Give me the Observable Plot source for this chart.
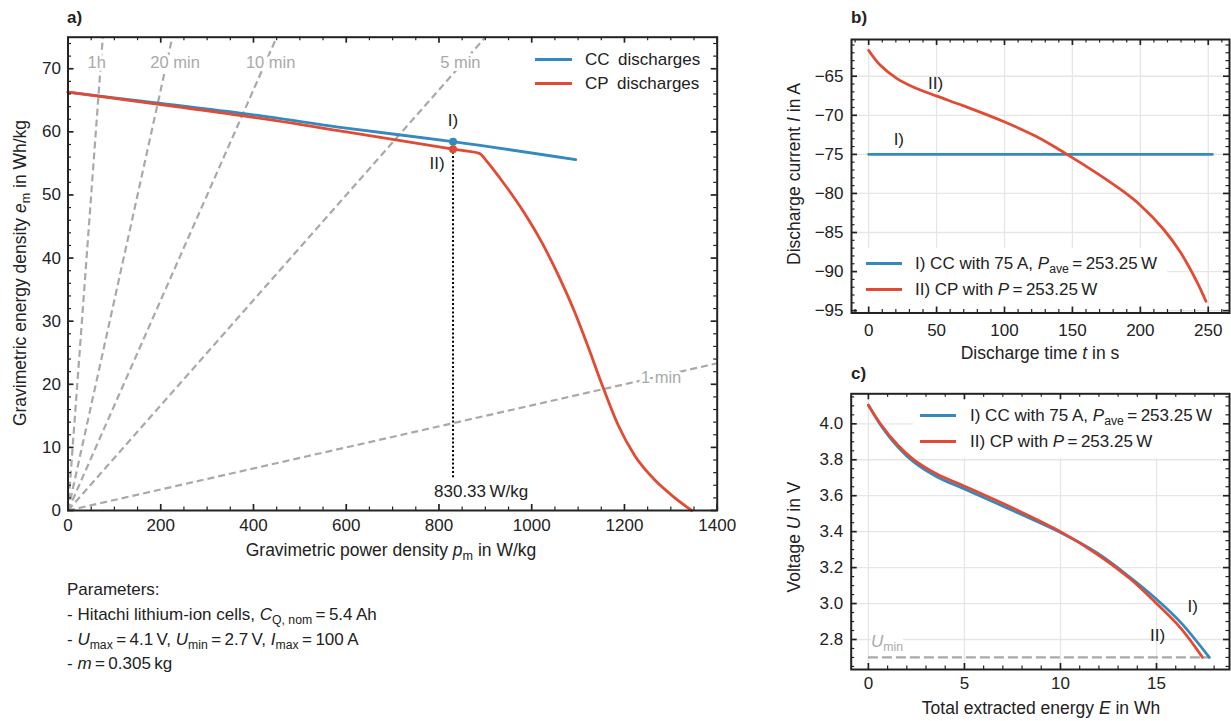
<!DOCTYPE html>
<html>
<head>
<meta charset="utf-8">
<script src="https://cdn.jsdelivr.net/npm/d3@7"></script>
<script src="https://cdn.jsdelivr.net/npm/@observablehq/plot@0.6"></script>
<style>
html,body{margin:0;padding:0;background:#fff;}
#root{position:relative;width:1231px;height:721px;overflow:hidden;background:#fff;font-family:"Liberation Sans",Arial,Helvetica,sans-serif;color:#222;}
#root svg{position:absolute;}
.lbl{position:absolute;white-space:nowrap;line-height:1;}
.sub{position:relative;top:0.33em;font-size:0.72em;font-style:normal;}
.box{position:absolute;background:#fff;}
.key{position:absolute;height:3px;}
</style>
</head>
<body>
<div id="root"></div>
<script>
const FONT = '"Liberation Sans", Arial, Helvetica, sans-serif';
const INK = "#222222", BLUE = "#348ABD", RED = "#E24A33", GRAY = "#a9a9a9", GRID = "#e6e6e6";
const TS = "\u2009";
const FS = 17;

// ---------------- Panel a: Ragone-type diagram ----------------
const ccPower  = [0, 200, 400, 600, 830.33, 1095];
const ccEnergy = [66.3, 64.5, 62.7, 60.6, 58.45, 55.6];
const cpPower  = [0, 200, 400, 600, 830.33, 887, 905, 934, 955, 991, 1020, 1056, 1092, 1121, 1150, 1186, 1222, 1265, 1308, 1345];
const cpEnergy = [66.3, 64.3, 62.3, 60.0, 57.25, 56.6, 55.16, 52.41, 50.31, 46.35, 42.72, 37.5, 31.56, 26.05, 20.25, 13.59, 8.73, 4.86, 2.05, 0];
const durationNames  = ["1h", "20 min", "10 min", "5 min", "1 min"];
const durationEndP   = [75, 225, 450, 900, 1400];
const durationEndE   = [75, 75, 75, 75, 23.33];
const durationLabelP = [62, 231, 437, 846, 1279];
const durationLabelE = [70.9, 70.9, 70.9, 70.9, 21.0];
const markPower = 830.33;
const markEnergyCC = 58.45, markEnergyCP = 57.25;
const markDottedBottom = 5.2;
const markLabel = "830.33" + TS + "W/kg";
const aXTicks = [0, 200, 400, 600, 800, 1000, 1200, 1400];
const aYTicks = [0, 10, 20, 30, 40, 50, 60, 70];

// ---------------- Panel b: discharge current ----------------
const bCcTime = [0, 253];
const bCcCurrent = [-75, -75];
const bCpTime = [0, 8.6, 20.9, 33.1, 50.3, 69.9, 99.3, 123.8, 146, 167.9, 187.5, 199.8, 216.9, 229.2, 241.5, 248.3];
const bCpCurrent = [-61.7, -63.6, -65.3, -66.4, -67.55, -68.8, -70.8, -72.75, -75.0, -77.4, -79.75, -81.47, -84.55, -87.44, -91.25, -93.8];
const bXTicks = [0, 50, 100, 150, 200, 250];
const bYTicks = [-95, -90, -85, -80, -75, -70, -65];

// ---------------- Panel c: voltage vs energy ----------------
const cEnergy   = [0, 0.66, 1.53, 2.39, 3.61, 5, 7.6, 10, 11.93, 13.67, 15, 16.27];
const cCcVolt   = [4.104, 3.99, 3.872, 3.785, 3.703, 3.638, 3.513, 3.395, 3.28, 3.142, 3.024, 2.894];
const cCcEnd    = [17.75, 2.70];
const cCpVolt   = [4.104, 3.995, 3.882, 3.798, 3.718, 3.653, 3.527, 3.40, 3.273, 3.134, 3.0, 2.862];
const cCpEnd    = [17.4, 2.70];
const uMin = 2.7, uMinEnd = 17.75;
const cXTicks = [0, 5, 10, 15];
const cYTicks = [2.8, 3.0, 3.2, 3.4, 3.6, 3.8, 4.0];

// ---------------- helpers ----------------
const root = document.getElementById("root");
function addSvg(svg, left, top, z) {
  svg.style.left = left + "px"; svg.style.top = top + "px"; svg.style.zIndex = z;
  root.appendChild(svg);
}
function txt(html, x, y, o = {}) {
  const {anchor = "middle", rotate = 0, size = FS, weight = 400, color = INK, bg = null, z = 5} = o;
  const el = document.createElement("div");
  el.className = "lbl";
  el.innerHTML = html;
  Object.assign(el.style, {left: x + "px", top: y + "px", fontSize: size + "px", fontWeight: weight, color, zIndex: z});
  const tx = anchor === "middle" ? "-50%" : anchor === "end" ? "-100%" : "0";
  el.style.transform = `translate(${tx}, -50%)` + (rotate ? ` rotate(${rotate}deg)` : "");
  if (bg) el.style.background = bg;
  root.appendChild(el);
  return el;
}
function box(x, y, w, h, z = 2) {
  const el = document.createElement("div");
  el.className = "box";
  Object.assign(el.style, {left: x + "px", top: y + "px", width: w + "px", height: h + "px", zIndex: z});
  root.appendChild(el);
}
function key(x, y, w, color, z = 6) {
  const el = document.createElement("div");
  el.className = "key";
  Object.assign(el.style, {left: x + "px", top: (y - 1.5) + "px", width: w + "px", background: color, zIndex: z});
  root.appendChild(el);
}
const sub = s => `<span class="sub">${s}</span>`;
const svgStyle = {fontFamily: FONT, fontSize: FS + "px", color: INK, background: "transparent", overflow: "visible"};

function tickMarks(xMajor, xMinor, yMajor, yMinor, fw, fh) {
  const M = 6, m = 3.5;
  const maj = {stroke: INK, strokeWidth: 1.7};
  const mn = {stroke: INK, strokeWidth: 1.2};
  return [
    Plot.ruleX(xMajor, {...maj, insetTop: fh - M}),
    Plot.ruleX(xMajor, {...maj, insetBottom: fh - M}),
    Plot.ruleX(xMinor, {...mn, insetTop: fh - m}),
    Plot.ruleX(xMinor, {...mn, insetBottom: fh - m}),
    Plot.ruleY(yMajor, {...maj, insetRight: fw - M}),
    Plot.ruleY(yMajor, {...maj, insetLeft: fw - M}),
    Plot.ruleY(yMinor, {...mn, insetRight: fw - m}),
    Plot.ruleY(yMinor, {...mn, insetLeft: fw - m})
  ];
}
const fmtInt = d3.format("d");
const fmt1 = d3.format(".1f");

// ---------------- Panel a plot ----------------
{
  const W = 740, H = 580, ml = 67.5, mr = 23.3, mt = 36.7, mb = 70;
  const fw = W - ml - mr, fh = H - mt - mb;
  const cc = ccPower.map((p, i) => ({p, e: ccEnergy[i]}));
  const cp = cpPower.map((p, i) => ({p, e: cpEnergy[i]}));
  const dur = durationNames.map((name, i) => ({name, p: durationEndP[i], e: durationEndE[i], lp: durationLabelP[i], le: durationLabelE[i]}));
  const marks = [
    {p: markPower, e: markEnergyCC, c: BLUE},
    {p: markPower, e: markEnergyCP, c: RED}
  ];
  const xMinor = d3.range(0, 1401, 50).filter(v => v % 200 !== 0);
  const yMinor = d3.range(0, 75, 2).filter(v => v % 10 !== 0);
  const svg = Plot.plot({
    width: W, height: H, marginLeft: ml, marginRight: mr, marginTop: mt, marginBottom: mb,
    x: {domain: [0, 1400]}, y: {domain: [0, 75]},
    style: svgStyle,
    marks: [
      Plot.link(dur, {x1: () => 0, y1: () => 0, x2: "p", y2: "e", stroke: GRAY, strokeWidth: 2.2, strokeDasharray: "7,4"}),
      Plot.text(dur, {x: "lp", y: "le", text: "name", fill: GRAY, stroke: "white", strokeWidth: 6, paintOrder: "stroke", fontSize: 16.5}),
      Plot.line(cc, {x: "p", y: "e", stroke: BLUE, strokeWidth: 2.8, curve: "monotone-x"}),
      Plot.line(cp, {x: "p", y: "e", stroke: RED, strokeWidth: 2.8, curve: "monotone-x"}),
      Plot.ruleX([markPower], {x: d => d, y1: () => markDottedBottom, y2: () => markEnergyCP, stroke: "#000", strokeWidth: 2, strokeDasharray: "2,2.2"}),
      Plot.dot(marks, {x: "p", y: "e", fill: "c", r: 4}),
      Plot.text([markPower], {x: d => d, y: () => markEnergyCC, text: () => "I)", dy: -21, fill: INK, fontSize: FS}),
      Plot.text([markPower], {x: d => d, y: () => markEnergyCP, text: () => "II)", dx: -16, dy: 14, fill: INK, fontSize: FS}),
      Plot.text([markPower], {x: d => d, y: () => 3.07, text: () => markLabel, textAnchor: "start", dx: -19, fill: INK, fontSize: FS}),
      ...tickMarks(aXTicks, xMinor, aYTicks, yMinor, fw, fh),
      Plot.frame({stroke: INK, strokeWidth: 2}),
      Plot.axisX(aXTicks, {anchor: "bottom", tickSize: 0, tickPadding: 8.5, tickFormat: fmtInt, label: null}),
      Plot.axisY(aYTicks, {anchor: "left", tickSize: 0, tickPadding: 7, tickFormat: fmtInt, label: null})
    ]
  });
  addSvg(svg, 0, 0, 3);
}

// ---------------- Panel b plots ----------------
{
  const W = 451, H = 340, ml = 71, mr = 2, mt = 39, mb = 27.5;
  const fw = W - ml - mr, fh = H - mt - mb;
  const xd = [-12.65, 265.65], yd = [-95.3, -60.3];
  const grid = Plot.plot({
    width: W, height: H, marginLeft: ml, marginRight: mr, marginTop: mt, marginBottom: mb,
    x: {domain: xd, axis: null}, y: {domain: yd, axis: null}, style: svgStyle,
    marks: [
      Plot.ruleX(bXTicks, {stroke: GRID, strokeWidth: 1.3}),
      Plot.ruleY(bYTicks, {stroke: GRID, strokeWidth: 1.3})
    ]
  });
  addSvg(grid, 780, 0, 1);
  const cc = bCcTime.map((t, i) => ({t, I: bCcCurrent[i]}));
  const cp = bCpTime.map((t, i) => ({t, I: bCpCurrent[i]}));
  const xMinor = d3.range(-10, 265, 10).filter(v => v % 50 !== 0);
  const yMinor = d3.range(-95, -60).filter(v => v % 5 !== 0);
  const svg = Plot.plot({
    width: W, height: H, marginLeft: ml, marginRight: mr, marginTop: mt, marginBottom: mb,
    x: {domain: xd}, y: {domain: yd}, style: svgStyle,
    marks: [
      Plot.line(cc, {x: "t", y: "I", stroke: BLUE, strokeWidth: 2.8}),
      Plot.line(cp, {x: "t", y: "I", stroke: RED, strokeWidth: 2.8, curve: "catmull-rom"}),
      Plot.text([{t: 49.3, I: -65.9, s: "II)"}, {t: 22.2, I: -73.1, s: "I)"}], {x: "t", y: "I", text: "s", fill: INK, fontSize: FS}),
      ...tickMarks(bXTicks, xMinor, bYTicks, yMinor, fw, fh),
      Plot.frame({stroke: INK, strokeWidth: 2}),
      Plot.axisX(bXTicks, {anchor: "bottom", tickSize: 0, tickPadding: 10.5, tickFormat: fmtInt, label: null}),
      Plot.axisY(bYTicks, {anchor: "left", tickSize: 0, tickPadding: 8, tickFormat: fmtInt, label: null})
    ]
  });
  addSvg(svg, 780, 0, 3);
}

// ---------------- Panel c plots ----------------
{
  const W = 451, H = 340, ml = 70.7, mr = 2, mt = 33.3, mb = 31;
  const fw = W - ml - mr, fh = H - mt - mb;
  const xd = [-0.895, 18.8], yd = [2.633, 4.167];
  const grid = Plot.plot({
    width: W, height: H, marginLeft: ml, marginRight: mr, marginTop: mt, marginBottom: mb,
    x: {domain: xd, axis: null}, y: {domain: yd, axis: null}, style: svgStyle,
    marks: [
      Plot.ruleX(cXTicks, {stroke: GRID, strokeWidth: 1.3}),
      Plot.ruleY(cYTicks, {stroke: GRID, strokeWidth: 1.3})
    ]
  });
  addSvg(grid, 780, 360, 1);
  const cc = cEnergy.map((E, i) => ({E, U: cCcVolt[i]})).concat([{E: cCcEnd[0], U: cCcEnd[1]}]);
  const cp = cEnergy.map((E, i) => ({E, U: cCpVolt[i]})).concat([{E: cCpEnd[0], U: cCpEnd[1]}]);
  const xMinor = d3.range(0, 19, 1).filter(v => v % 5 !== 0);
  const yMinor = d3.range(265, 416, 5).filter(v => v % 20 !== 0).map(v => v / 100);
  const svg = Plot.plot({
    width: W, height: H, marginLeft: ml, marginRight: mr, marginTop: mt, marginBottom: mb,
    x: {domain: xd}, y: {domain: yd}, style: svgStyle,
    marks: [
      Plot.ruleY([uMin], {y: d => d, x1: () => 0, x2: () => uMinEnd, stroke: GRAY, strokeWidth: 2.2, strokeDasharray: "10,4"}),
      Plot.line(cc, {x: "E", y: "U", stroke: BLUE, strokeWidth: 2.8, curve: "catmull-rom"}),
      Plot.line(cp, {x: "E", y: "U", stroke: RED, strokeWidth: 2.8, curve: "catmull-rom"}),
      Plot.text([{E: 16.88, U: 2.982, s: "I)"}, {E: 15.06, U: 2.82, s: "II)"}], {x: "E", y: "U", text: "s", fill: INK, fontSize: FS}),
      ...tickMarks(cXTicks, xMinor, cYTicks, yMinor, fw, fh),
      Plot.frame({stroke: INK, strokeWidth: 2}),
      Plot.axisX(cXTicks, {anchor: "bottom", tickSize: 0, tickPadding: 7.5, tickFormat: fmtInt, label: null}),
      Plot.axisY(cYTicks, {anchor: "left", tickSize: 0, tickPadding: 8, tickFormat: fmt1, label: null})
    ]
  });
  addSvg(svg, 780, 360, 3);
}

// ---------------- texts, legends ----------------
txt("a)", 67, 16.7, {anchor: "start", size: 17, weight: 700});
txt("b)", 851, 16.7, {anchor: "start", size: 17, weight: 700});
txt("c)", 851, 373.3, {anchor: "start", size: 17, weight: 700});

const AX = 17.5;
txt(`Gravimetric power density <i>p</i>${sub("m")} in W/kg`, 391, 551, {size: AX});
txt(`Gravimetric energy density <i>e</i>${sub("m")} in Wh/kg`, 21, 273, {rotate: -90, size: AX});
txt(`Discharge time <i>t</i> in s`, 1040, 354, {size: AX});
txt(`Discharge current <i>I</i> in A`, 795, 174, {rotate: -90, size: AX});
txt(`Total extracted energy <i>E</i> in Wh`, 1041, 709, {size: AX});
txt(`Voltage <i>U</i> in V`, 795, 537, {rotate: -90, size: AX});

// panel a legend
key(535, 59.3, 37, BLUE); txt(`CC&ensp;discharges`, 585, 59.3, {anchor: "start"});
key(535, 83.3, 37, RED);  txt(`CP&ensp;discharges`, 585, 83.3, {anchor: "start"});

// parameters
txt(`Parameters:`, 67, 589, {anchor: "start"});
txt(`- Hitachi lithium-ion cells, <i>C</i>${sub("Q, nom")}${TS}=${TS}5.4${TS}Ah`, 67, 614, {anchor: "start"});
txt(`- <i>U</i>${sub("max")}${TS}=${TS}4.1${TS}V, <i>U</i>${sub("min")}${TS}=${TS}2.7${TS}V, <i>I</i>${sub("max")}${TS}=${TS}100${TS}A`, 67, 639, {anchor: "start"});
txt(`- <i>m</i>${TS}=${TS}0.305${TS}kg`, 67, 663, {anchor: "start"});

// panel b legend (box sits between grid and data layers)
const legI = `I) CC with 75 A, <i>P</i>${sub("ave")}${TS}=${TS}253.25${TS}W`;
const legII = `II) CP with <i>P</i>${TS}=${TS}253.25${TS}W`;
box(857, 248, 310, 63);
key(866, 263, 36, BLUE); txt(legI, 915, 263, {anchor: "start"});
key(866, 289, 36, RED);  txt(legII, 915, 289, {anchor: "start"});

// panel c legend
box(913, 395, 314, 63);
key(920, 415, 36, BLUE); txt(legI, 970, 415, {anchor: "start"});
key(920, 441, 36, RED);  txt(legII, 970, 441, {anchor: "start"});
txt(`<i>U</i>${sub("min")}`, 871, 641, {anchor: "start", color: "#aaaaaa", bg: "#fff", z: 2});
</script>
</body>
</html>
